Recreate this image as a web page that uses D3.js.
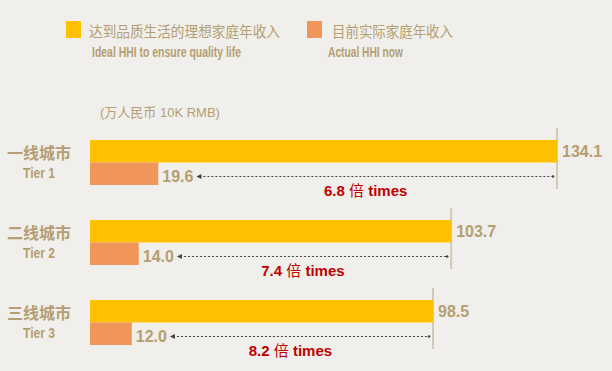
<!DOCTYPE html>
<html><head><meta charset="utf-8">
<script src="https://cdn.jsdelivr.net/npm/d3@7"></script>
<style>
html,body{margin:0;padding:0;background:#f0efeb;}
svg{display:block;}
</style></head>
<body>
<svg id="chart" width="612" height="371"></svg>
<script>
const categoriesCN = ["一线城市", "二线城市", "三线城市"];
const categoriesEN = ["Tier 1", "Tier 2", "Tier 3"];
const idealHHI = [134.1, 103.7, 98.5];
const actualHHI = [19.6, 14.0, 12.0];
const timesLabels = ["6.8", "7.4", "8.2"];
const seriesCN = ["达到品质生活的理想家庭年收入", "目前实际家庭年收入"];
const seriesEN = ["Ideal HHI to ensure quality life", "Actual HHI now"];
const unitLabel = "(万人民币 10K RMB)";

const colors = ["#FFC000", "#F0965A"];
const tan = "#B59E72";
const red = "#C00000";
const cjk = "'Noto Sans CJK SC', sans-serif";
const sans = "'Liberation Sans', Arial, 'Noto Sans CJK SC', sans-serif";
const narrow = "'Liberation Sans Narrow', 'Arial Narrow', 'Liberation Sans', sans-serif";

const svg = d3.select("#chart");
const x = d3.scaleLinear().domain([0, 140]).range([90, 90 + 140 * (467 / 134.1)]);
const y = d3.scaleBand().domain(categoriesCN).range([130, 370]);
const sub = d3.scaleBand().domain([0, 1]).range([10, 55]);

// legend
const legX = [66, 307];
const legTX = [89, 332];
const legW = [191, 121];
const legEX = [92, 328];
const legEW = [149, 75];
seriesCN.forEach((s, i) => {
  svg.append("rect").attr("x", legX[i]).attr("y", 21).attr("width", 15).attr("height", 17).attr("fill", colors[i]);
  svg.append("text").attr("x", legTX[i]).attr("y", 36.5).attr("font-family", cjk).attr("font-size", 14.5)
    .attr("fill", tan).attr("textLength", legW[i]).attr("lengthAdjust", "spacingAndGlyphs").text(s);
  svg.append("text").attr("x", legEX[i]).attr("y", 57).attr("font-family", narrow).attr("font-weight", "bold")
    .attr("font-size", 14).attr("fill", tan).attr("textLength", legEW[i]).attr("lengthAdjust", "spacingAndGlyphs").text(seriesEN[i]);
});

// unit
svg.append("text").attr("x", 100).attr("y", 117).attr("font-family", sans).attr("font-size", 13)
  .attr("fill", tan).text(unitLabel);

categoriesCN.forEach((c, i) => {
  const y0 = y(c);
  const g = svg.append("g");
  const xe = x(idealHHI[i]);
  const xa = x(actualHHI[i]);
  // vertical reference line
  g.append("line").attr("x1", xe).attr("x2", xe).attr("y1", y0 + sub(0) - 12).attr("y2", y0 + sub(1) + sub.bandwidth() + 4)
    .attr("stroke", "#d3c9b8").attr("stroke-width", 2);
  // bars
  g.append("rect").attr("x", x(0)).attr("y", y0 + sub(0)).attr("width", xe - x(0)).attr("height", sub.bandwidth()).attr("fill", colors[0]);
  g.append("rect").attr("x", x(0)).attr("y", y0 + sub(1)).attr("width", xa - x(0)).attr("height", sub.bandwidth()).attr("fill", colors[1]);
  // category labels
  g.append("text").attr("x", 39).attr("y", y0 + sub(0) + 19).attr("text-anchor", "middle").attr("font-family", cjk)
    .attr("font-weight", "bold").attr("font-size", 16).attr("fill", tan).text(c);
  g.append("text").attr("x", 23).attr("y", y0 + sub(1) + 15).attr("font-family", narrow)
    .attr("font-weight", "bold").attr("font-size", 14).attr("fill", tan)
    .attr("textLength", 32).attr("lengthAdjust", "spacingAndGlyphs").text(categoriesEN[i]);
  // value labels
  g.append("text").attr("x", xe + 5).attr("y", y0 + sub(0) + 17).attr("font-family", sans).attr("font-weight", "bold")
    .attr("font-size", 16).attr("fill", tan).text(idealHHI[i].toFixed(1));
  const vt = g.append("text").attr("x", xa + 4).attr("y", y0 + sub(1) + 19).attr("font-family", sans).attr("font-weight", "bold")
    .attr("font-size", 16).attr("fill", tan).text(actualHHI[i].toFixed(1));
  const tw = vt.node().getComputedTextLength();
  const ax0 = xa + 4 + tw + 3;
  const ay = y0 + sub(1) + 14;
  g.append("line").attr("x1", ax0 + 3).attr("x2", xe - 3).attr("y1", ay).attr("y2", ay)
    .attr("stroke", "#444").attr("stroke-width", 1.2).attr("stroke-dasharray", "2,2");
  g.append("path").attr("d", `M${ax0},${ay} L${ax0 + 5},${ay - 2.5} L${ax0 + 5},${ay + 2.5} Z`).attr("fill", "#444");
  g.append("circle").attr("cx", xe - 4).attr("cy", ay).attr("r", 1.3).attr("fill", "#444");
  // times label
  const tx = (xa + xe) / 2 + 8;
  const tt = g.append("text").attr("x", tx).attr("y", y0 + sub(1) + sub.bandwidth() + 10.5).attr("text-anchor", "middle")
    .attr("font-family", narrow).attr("font-weight", "bold").attr("font-size", 15).attr("fill", red);
  tt.append("tspan").text(timesLabels[i] + " ");
  tt.append("tspan").attr("font-family", cjk).attr("font-weight", "normal").text("倍");
  tt.append("tspan").text(" times");
});
</script>
</body></html>
